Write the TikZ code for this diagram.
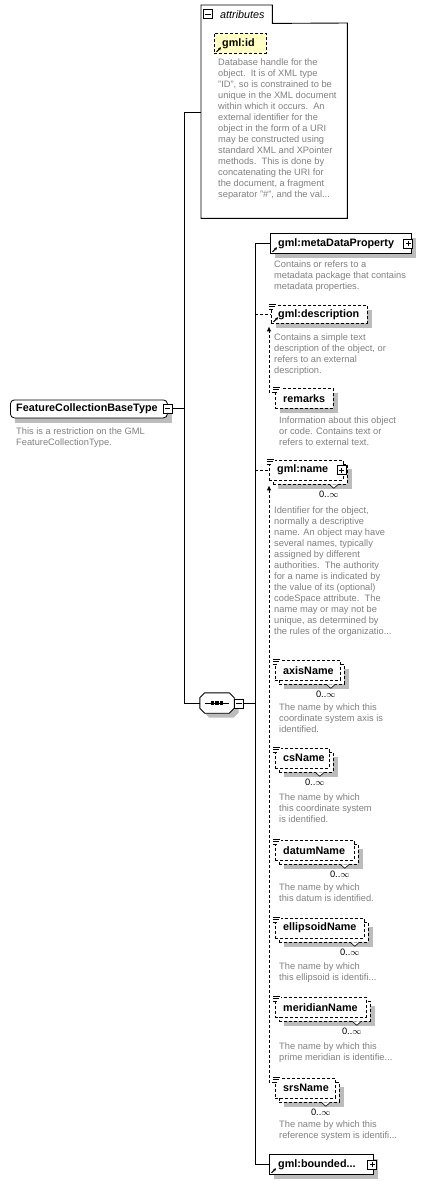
\documentclass[tikz,border=0pt]{standalone}
\usepackage{fontspec}
\setmainfont{Liberation Sans}
\usetikzlibrary{arrows.meta,calc,backgrounds}
\definecolor{shadowgray}{RGB}{188,188,188}
\definecolor{descgray}{RGB}{128,128,128}
\definecolor{idyellow}{RGB}{255,255,196}
\tikzset{
  ln/.style={line width=0.9pt},
  dsh/.style={dash pattern=on 3pt off 2pt},
  elbox/.style={draw, line width=0.8pt, fill=white, inner sep=0pt, anchor=north west},
  shd/.style={fill=shadowgray, draw=none},
  lbl/.style={font=\bfseries\fontsize{10.8}{13}\selectfont, inner sep=0pt, anchor=west},
  dsc/.style={font=\fontsize{9.3}{11}\selectfont, text=descgray, align=left, inner sep=0pt, anchor=north west},
  mult/.style={font=\fontsize{9.3}{11}\selectfont, inner sep=0pt, anchor=north east},
  pmbox/.style={draw, line width=0.7pt, fill=white, minimum size=9pt, inner sep=0pt, outer sep=0pt},
  plusbox/.style={pmbox, path picture={\draw[line width=0.7pt]
      ([xshift=-2.6pt]path picture bounding box.center) -- ([xshift=2.6pt]path picture bounding box.center)
      ([yshift=-2.6pt]path picture bounding box.center) -- ([yshift=2.6pt]path picture bounding box.center);}},
  minusbox/.style={pmbox, path picture={\draw[line width=0.7pt]
      ([xshift=-2.6pt]path picture bounding box.center) -- ([xshift=2.6pt]path picture bounding box.center);}},
  substl/.style={ln, dsh, -{Latex[length=5pt,width=4.5pt]}},
}
\newcommand\subicon[1]{%
  \fill[white] ([shift={(-3,-2.5)}]#1.north west) rectangle ([shift={(6,5)}]#1.north west);
  \draw[line width=0.8pt] ([shift={(-2.5,-1)}]#1.north west) -- ++(7.5,0)
    ([shift={(-2.5,1.5)}]#1.north west) -- ++(6,0)
    ([shift={(-2.5,4)}]#1.north west) -- ++(4.5,0);}
\newcommand\refarrow[1]{%
  \draw[line width=1pt,-{Stealth[length=3pt,width=3pt]}] ([shift={(2.5,-2)}]#1.south west) -- ++(4.5,-4.5);}
\newcommand\shadowof[1]{%
  \begin{scope}[on background layer]
  \fill[shd] ([shift={(4.5,4.5)}]#1.north west) rectangle ([shift={(4.5,4.5)}]#1.south east);
  \end{scope}}
\newcommand\melem[5]{%
  \node[elbox,dsh,minimum width=#4pt,minimum height=19.5pt] (#1-b) at ({#2+4},{#3+4}) {};
  \shadowof{#1-b}
  \node[elbox,dsh,minimum width=#4pt,minimum height=19.5pt] (#1) at (#2,#3) {};
  \node[lbl] (#1-t) at ([xshift=8pt]#1.west) {#5};
  \subicon{#1}
  \draw[line width=0.6pt,fill=white] ([shift={(-18.5,0)}]#1-b.south east) -- ++(4.5,4) -- ++(4.5,-4);
  \node[mult] (#1-m) at ([shift={(-9,6.5)}]#1-b.south east) {0..$\infty$};
}
\begin{document}
\begin{tikzpicture}[x=1pt,y=-1pt]
\useasboundingbox (0,0) rectangle (423,1184);

% ---------- attributes group
\node[inner sep=0pt, minimum width=146pt, minimum height=195pt, anchor=north west] (attr) at (201,23) {};
\node[inner sep=0pt, minimum width=71pt, minimum height=18pt, anchor=north west] (attrtab) at (201,5) {};
\draw[ln] (attr.south west) -- (attrtab.north west) -- (attrtab.north east) -- (attrtab.south east)
  -- (attr.north east) -- (attr.south east) -- cycle;
\node[minusbox] (attrtab-m) at (208,14) {};
\node[font=\itshape\fontsize{10.8}{13}\selectfont, inner sep=0pt, anchor=west] (attrtab-t) at (220,14.5) {attributes};

\node[elbox, dsh, fill=idyellow, minimum width=52pt, minimum height=20pt] (gid) at (214,33) {};
\node[lbl] (gid-t) at ([xshift=8pt]gid.west) {gml:id};
\refarrow{gid}
\node[dsc] (gid-d) at (218,58.7) {Database handle for the\\
object.\ \ It is of XML type\\
"ID", so is constrained to be\\
unique in the XML document\\
within which it occurs.\ \ An\\
external identifier for the\\
object in the form of a URI\\
may be constructed using\\
standard XML and XPointer\\
methods.\ \ This is done by\\
concatenating the URI for\\
the document, a fragment\\
separator "\#", and the val...};

% ---------- main type
\node[elbox, rounded corners=4pt, minimum width=157pt, minimum height=18pt] (fcbt) at (10,399.5) {};
\shadowof{fcbt}
\node[lbl] (fcbt-t) at ([xshift=6pt]fcbt.west) {FeatureCollectionBaseType};
\node[minusbox] (fcbt-m) at (167.5,408.5) {};
\node[dsc] (fcbt-d) at (16,427.7) {This is a restriction on the GML\\FeatureCollectionType.};

% bus 1
\coordinate (b1) at (184,112);
\coordinate (b1e) at (184,703);
\draw[ln] (b1) -- (b1e);
\draw[ln] (b1) -- (b1 -| attr.west);
\draw[ln] (fcbt-m.east) -- (fcbt-m.east -| b1);

% ---------- sequence
\node[inner sep=0pt, minimum width=34pt, minimum height=20pt] (seq) at (217,703) {};
\begin{scope}[on background layer]
\fill[shd] ($(seq.north west)+(9.5,4.5)$) -- ($(seq.north east)+(-0.5,4.5)$) -- ($(seq.north east)+(4.5,9.5)$)
  -- ($(seq.south east)+(4.5,-0.5)$) -- ($(seq.south east)+(-0.5,4.5)$) -- ($(seq.south west)+(9.5,4.5)$)
  -- ($(seq.south west)+(4.5,-0.5)$) -- ($(seq.north west)+(4.5,9.5)$) -- cycle;
\end{scope}
\draw[ln, fill=white] ($(seq.north west)+(5,0)$) -- ($(seq.north east)+(-5,0)$) -- ($(seq.north east)+(0,5)$)
  -- ($(seq.south east)+(0,-5)$) -- ($(seq.south east)+(-5,0)$) -- ($(seq.south west)+(5,0)$)
  -- ($(seq.south west)+(0,-5)$) -- ($(seq.north west)+(0,5)$) -- cycle;
\draw[line width=0.8pt] ([xshift=5pt]seq.west) -- ([xshift=-5pt]seq.east);
\foreach \dx in {-4.5,0,4.5}{\fill ($(seq.center)+(\dx-1.6,-1.6)$) rectangle ++(3.2,3.2);}
\node[minusbox] (seq-m) at (239,703.5) {};
\draw[ln] (b1e) -- (seq.west);

\coordinate (b2) at (255,703);
\draw[ln] (seq-m.east) -- (seq-m.east -| b2);

% ---------- metaDataProperty
\node[elbox, minimum width=141pt, minimum height=20pt] (mdp) at (270,233) {};
\shadowof{mdp}
\node[lbl] (mdp-t) at ([xshift=8pt]mdp.west) {gml:metaDataProperty};
\refarrow{mdp}
\node[plusbox] (mdp-p) at ([xshift=-3.5pt]mdp.east) {};
\node[dsc] (mdp-d) at (274,260.7) {Contains or refers to a\\metadata package that contains\\metadata properties.};

% ---------- description / remarks
\node[elbox, dsh, minimum width=96pt, minimum height=18pt] (desc) at (271,305) {};
\shadowof{desc}
\node[lbl] (desc-t) at ([xshift=7pt]desc.west) {gml:description};
\subicon{desc}
\refarrow{desc}
\node[dsc] (desc-d) at (274,333.7) {Contains a simple text\\description of the object, or\\refers to an external\\description.};

\node[elbox, dsh, minimum width=58pt, minimum height=20pt] (rmk) at (275,388) {};
\shadowof{rmk}
\node[lbl] (rmk-t) at ([xshift=8pt]rmk.west) {remarks};
\subicon{rmk}
\node[dsc] (rmk-d) at (279,416.7) {Information about this object\\or code. Contains text or\\refers to external text.};
\draw[substl] ([shift={(0,4)}]rmk.north west) -| ([shift={(-2,2.5)}]desc.south west);

% ---------- name and its substitutes
\melem{nm}{269}{460}{74}{gml:name}
\node[plusbox] (nm-p) at ([xshift=-2pt]nm.east) {};
\node[dsc] (nm-d) at (274,506.7) {Identifier for the object,\\
normally a descriptive\\
name. An object may have\\
several names, typically\\
assigned by different\\
authorities.\ \ The authority\\
for a name is indicated by\\
the value of its (optional)\\
codeSpace attribute.\ \ The\\
name may or may not be\\
unique, as determined by\\
the rules of the organizatio...};

\melem{ax}{275}{660}{65}{axisName}
\node[dsc] (ax-d) at (279,703.7) {The name by which this\\coordinate system axis is\\identified.};

\melem{cs}{275}{748}{54}{csName}
\node[dsc] (cs-d) at (279,793.7) {The name by which\\this coordinate system\\is identified.};

\melem{dt}{275}{840}{79}{datumName}
\node[dsc] (dt-d) at (279,883.7) {The name by which\\this datum is identified.};

\melem{el}{275}{918}{89}{ellipsoidName}
\node[dsc] (el-d) at (279,962.7) {The name by which\\this ellipsoid is identifi...};

\melem{mr}{275}{997}{91}{meridianName}
\node[dsc] (mr-d) at (279,1042.7) {The name by which this\\prime meridian is identifie...};

\melem{sr}{275}{1078}{60}{srsName}
\node[dsc] (sr-d) at (279,1120.7) {The name by which this\\reference system is identifi...};

\draw[substl] ([shift={(0,4)}]sr.north west) -| ([shift={(0,5)}]nm.south west);

% ---------- boundedBy
\node[elbox, minimum width=104pt, minimum height=20pt] (bb) at (269,1154) {};
\shadowof{bb}
\node[lbl] (bb-t) at ([xshift=9pt]bb.west) {gml:bounded...};
\refarrow{bb}
\node[plusbox] (bb-p) at ([xshift=-1.5pt]bb.east) {};

% bus 2 and connections
\draw[ln] (b2 |- mdp.west) -- (b2 |- bb.west);
\draw[ln] (b2 |- mdp.west) -- (mdp.west);
\draw[ln,dsh] (b2 |- desc.west) -- (desc.west);
\draw[ln,dsh] (b2 |- nm.west) -- (nm.west);
\draw[ln] (b2 |- bb.west) -- (bb.west);
\end{tikzpicture}
\end{document}
